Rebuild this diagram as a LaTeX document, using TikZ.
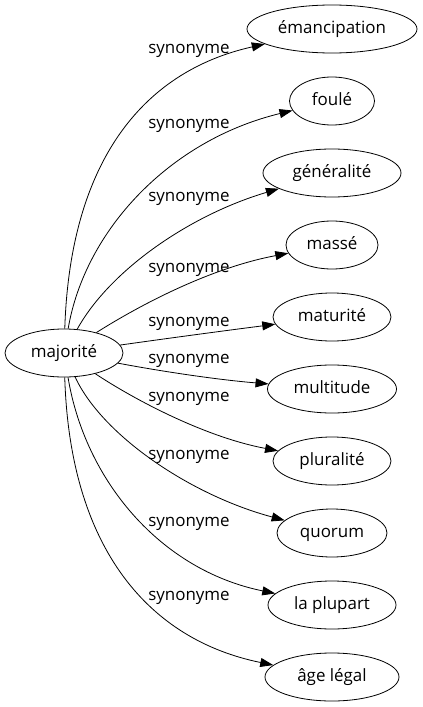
\documentclass[tikz,border=0pt]{standalone}
\usepackage{fontspec}
\setmainfont{Open Sans}
\usetikzlibrary{arrows.meta,shapes.geometric}
\begin{document}
\begin{tikzpicture}[x=1bp,y=-1bp,
  word/.style={draw,ellipse,inner sep=0pt,minimum height=48bp,line width=0.8bp,text height=9.5bp,text depth=0pt,font=\fontsize{17}{20}\selectfont},
  lbl/.style={inner sep=0pt,text height=9.5bp,text depth=0pt,font=\fontsize{17}{20}\selectfont},
  edge/.style={draw,line width=0.8bp,-{Triangle[length=13bp,width=9bp]}}]
\useasboundingbox (0,0) rectangle (422,707);
\node[word,minimum width=118bp] (maj) at (64,353) {majorité};
\node[word,minimum width=170bp] (ema) at (332,29) {émancipation};
\node[word,minimum width=85bp] (fou) at (332,101) {foulé};
\node[word,minimum width=138bp] (gen) at (332,173) {généralité};
\node[word,minimum width=92bp] (mas) at (332,245) {massé};
\node[word,minimum width=118bp] (mat) at (332,317) {maturité};
\node[word,minimum width=129bp] (mul) at (332,389) {multitude};
\node[word,minimum width=118bp] (plu) at (332,461) {pluralité};
\node[word,minimum width=110bp] (quo) at (332,533) {quorum};
\node[word,minimum width=128bp] (lap) at (332,605) {la plupart};
\node[word,minimum width=134bp] (age) at (332,677) {âge légal};
\draw[edge] (maj) .. controls (70,165) and (140,72) .. (ema);
\draw[edge] (maj) .. controls (85,230) and (170,140) .. (fou);
\draw[edge] (maj) .. controls (110,270) and (190,215) .. (gen);
\draw[edge] (maj) .. controls (140,305) and (210,268) .. (mas);
\draw[edge] (maj) .. controls (170,338) and (230,330) .. (mat);
\draw[edge] (maj) .. controls (165,372) and (220,380) .. (mul);
\draw[edge] (maj) .. controls (135,400) and (205,437) .. (plu);
\draw[edge] (maj) .. controls (102,435) and (190,495) .. (quo);
\draw[edge] (maj) .. controls (85,480) and (160,570) .. (lap);
\draw[edge] (maj) .. controls (70,550) and (150,640) .. (age);
\node[lbl] (l1) at (189,49) {synonyme};
\node[lbl] (l2) at (189,124) {synonyme};
\node[lbl] (l3) at (189,197) {synonyme};
\node[lbl] (l4) at (189,268) {synonyme};
\node[lbl] (l5) at (189,322) {synonyme};
\node[lbl] (l6) at (189,359) {synonyme};
\node[lbl] (l7) at (189,397) {synonyme};
\node[lbl] (l8) at (189,455) {synonyme};
\node[lbl] (l9) at (189,522) {synonyme};
\node[lbl] (l10) at (189,596) {synonyme};
\end{tikzpicture}
\end{document}
